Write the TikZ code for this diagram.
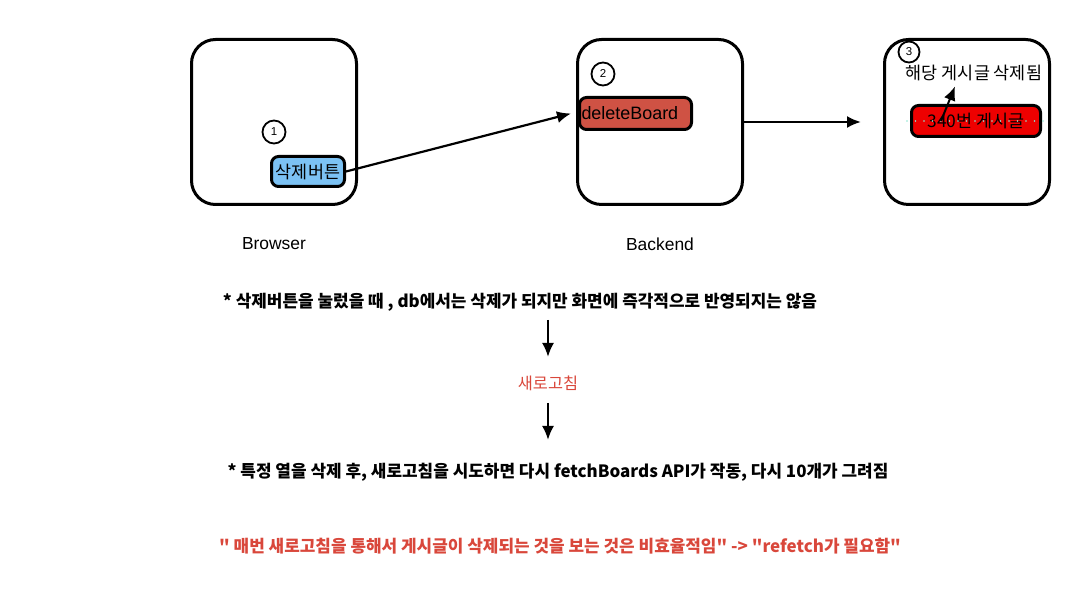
\documentclass[tikz,border=0pt]{standalone}
\usepackage{fontspec}
\setmainfont{Noto Sans CJK KR}
\newfontfamily\latinfont{Liberation Sans}
\usetikzlibrary{arrows.meta,calc}
\definecolor{btnblue}{HTML}{7CC2F4}
\definecolor{fnred}{HTML}{CF5244}
\definecolor{postred}{HTML}{EE0000}
\definecolor{notered}{HTML}{D9473B}
\definecolor{guide}{HTML}{8FE6D2}
\tikzset{
  panel/.style={draw,line width=3bp,rounded corners=24bp,minimum width=165bp,minimum height=165bp},
  chip/.style={draw,line width=3bp,rounded corners=7bp,inner sep=0pt},
  badge/.style={draw,circle,line width=1.8bp,minimum size=23bp,inner sep=0pt,font=\latinfont\fontsize{11.5}{13}\selectfont},
  note/.style={font=\fontsize{17}{20}\selectfont\bfseries},
  flow/.style={black,line width=2.2bp,->},
}
\begin{document}
\begin{tikzpicture}[>={Latex[length=14bp,width=12bp]},line join=bevel]
\useasboundingbox (0,0) rectangle (1089bp,593bp);
%%
\node (browser) at (274bp,471bp) [panel] {};
  \node (backend) at (660bp,471bp) [panel] {};
  \node (screen) at (967bp,471bp) [panel] {};
  \node (browser label) at (274bp,349bp) [font=\latinfont\fontsize{17.5}{20}\selectfont] {Browser};
  \node (backend label) at (660bp,349bp) [font=\latinfont\fontsize{17.5}{20}\selectfont] {Backend};
  \node (b1) at (274bp,461bp) [badge] {1};
  \node (b2) at (603bp,519bp) [badge] {2};
  \node (b3) at (909bp,541bp) [badge,minimum size=21bp] {3};
  \node (btn) at (308bp,421.5bp) [chip,fill=btnblue,minimum width=73bp,minimum height=30bp,font=\fontsize{17.5}{20}\selectfont] {삭제버튼};
  \node (del) at (635.5bp,479.5bp) [chip,fill=fnred,minimum width=112bp,minimum height=32bp,font=\latinfont\fontsize{18}{21}\selectfont] {\makebox[108bp][l]{deleteBoard}};
  \node (post) at (976bp,472bp) [chip,fill=postred,minimum width=129bp,minimum height=31bp,font=\fontsize{17.5}{20}\selectfont] {340번 게시글};
  \node (deleted) at (974bp,520bp) [font=\fontsize{17.5}{20}\selectfont] {해당 게시글 삭제됨};
  \node (note1) at (520bp,291bp) [note] {* 삭제버튼을 눌렀을 때 , db에서는 삭제가 되지만 화면에 즉각적으로 반영되지는 않음};
  \node (refresh) at (548bp,210bp) [text=notered,font=\fontsize{16.4}{19}\selectfont] {새로고침};
  \node (note2) at (558bp,121bp) [note] {* 특정 열을 삭제 후, 새로고침을 시도하면 다시 fetchBoards API가 작동, 다시 10개가 그려짐};
  \node (note3) at (560bp,47bp) [note,text=notered] {\textquotedbl\ 매번 새로고침을 통해서 게시글이 삭제되는 것을 보는 것은 비효율적임\textquotedbl\ -> \textquotedbl refetch가 필요함\textquotedbl};
  \draw [guide,line width=1.8bp,line cap=round,dash pattern=on 0bp off 8.5bp] ([xshift=-3bp]post.west) -- ([xshift=5bp]post.east);
  \draw [flow] (btn.east) -- ([xshift=-7bp]del.west);
  \draw [flow] (backend) -- ([xshift=-22bp]screen.west);
  \draw [flow,line width=2bp] ([xshift=-35bp]post.center) -- ([xshift=-19bp,yshift=-2bp]deleted.south);
  \draw [flow] ($(refresh |- note1)+(0,-18bp)$) -- ([yshift=26bp]refresh.center);
  \draw [flow] ([yshift=-20bp]refresh.center) -- ($(refresh |- note2)+(0,32bp)$);
%
\end{tikzpicture}
\end{document}
